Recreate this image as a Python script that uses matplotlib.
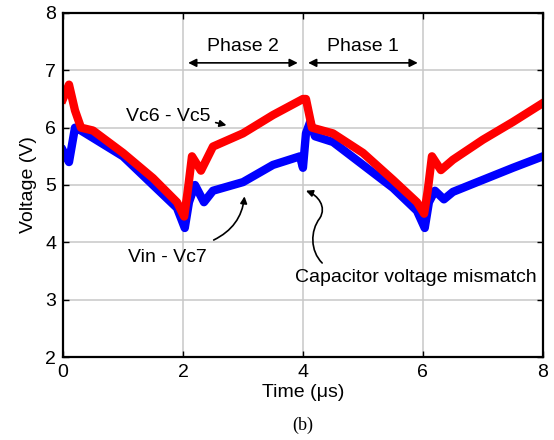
# capacitor voltages over two switching periods (fig. b)

import numpy as np
import matplotlib
matplotlib.use('Agg')
from matplotlib import pyplot as plt
from matplotlib.path import Path
from matplotlib.patches import FancyArrowPatch

plt.rcParams['font.family'] = ['Liberation Sans', 'DejaVu Sans']

# (us, V)
t_red = [0, 0.1, 0.2, 0.3, 0.5, 1.0, 1.5, 1.9, 2.02, 2.08, 2.15, 2.3, 2.5, 3.0,
         3.5, 4.0, 4.05, 4.15, 4.5, 5.0, 5.5, 5.9, 6.02, 6.08, 6.15, 6.3, 6.5,
         7.0, 7.5, 8.0]
vc6_vc5 = [6.5, 6.75, 6.3, 6.0, 5.95, 5.56, 5.12, 4.7, 4.45, 4.9, 5.5, 5.25, 5.67,
           5.9, 6.22, 6.5, 6.5, 6.0, 5.9, 5.56, 5.09, 4.7, 4.5, 4.9, 5.5, 5.26,
           5.44, 5.79, 6.1, 6.43]

t_blue = [0, 0.1, 0.2, 0.3, 1.0, 1.5, 1.9, 2.03, 2.1, 2.2, 2.35, 2.5, 3.0, 3.5,
          3.95, 4.0, 4.05, 4.12, 4.2, 4.5, 5.0, 5.5, 5.9, 6.03, 6.1, 6.2, 6.35,
          6.5, 7.0, 7.5, 8.0]
vin_vc7 = [5.6, 5.4, 6.0, 5.95, 5.5, 5.0, 4.6, 4.25, 4.7, 5.0, 4.7, 4.9, 5.05,
           5.35, 5.5, 5.3, 5.9, 6.1, 5.85, 5.75, 5.35, 4.95, 4.55, 4.25, 4.7,
           4.9, 4.75, 4.88, 5.09, 5.3, 5.5]

fig1 = plt.figure(figsize=(5.54, 4.40), dpi=100)
ax1 = fig1.add_axes([0.1137, 0.1886, 0.8663, 0.7819])
ax1.axis([0, 8, 2, 8])
ax1.set_xticks([0, 2, 4, 6, 8])
ax1.set_yticks([2, 3, 4, 5, 6, 7, 8])
ax1.grid(True, color='#c8c8c8', lw=1.1)
ax1.set_axisbelow(True)
ax1.tick_params(direction='in', top=True, right=True, length=4, width=1,
                labelsize=14, pad=5)
for s in ax1.spines.values():
    s.set_linewidth(1.6)

ax1.plot(t_blue, vin_vc7, color='#0000ff', lw=6)
ax1.plot(t_red, vc6_vc5, color='#ff0000', lw=6)

ax1.set_xlabel('Time (μs)', size=14, labelpad=2)
ax1.set_ylabel('Voltage (V)', size=14, labelpad=6)

# phase markers
ax1.text(3, 7.42, 'Phase 2', size=14, ha='center', va='center')
ax1.text(5, 7.42, 'Phase 1', size=14, ha='center', va='center')
ax1.annotate('', xy=(2.04, 7.13), xytext=(3.96, 7.13),
             arrowprops=dict(arrowstyle='<|-|>', color='k', lw=1.2, mutation_scale=12))
ax1.annotate('', xy=(4.04, 7.13), xytext=(5.96, 7.13),
             arrowprops=dict(arrowstyle='<|-|>', color='k', lw=1.2, mutation_scale=12))

ax1.text(1.75, 6.2, 'Vc6 - Vc5', size=14, ha='center', va='center')
ax1.annotate('', xy=(2.77, 6.03), xytext=(2.5, 6.1),
             arrowprops=dict(arrowstyle='-|>', color='k', lw=1.2, mutation_scale=10))

ax1.text(1.74, 3.73, 'Vin - Vc7', size=14, ha='center', va='center')
ax1.annotate('', xy=(3.03, 4.85), xytext=(2.47, 4.02),
             arrowprops=dict(arrowstyle='-|>', color='k', lw=1.2, mutation_scale=10,
                             connectionstyle='arc3,rad=0.3'))

ax1.text(5.88, 3.38, 'Capacitor voltage mismatch', size=14, ha='center', va='center')
wave = Path([(4.32, 3.64), (4.12, 3.85), (4.12, 4.2), (4.28, 4.42),
             (4.4, 4.62), (4.25, 4.82), (4.05, 4.9)],
            [Path.MOVETO, Path.CURVE4, Path.CURVE4, Path.CURVE4,
             Path.CURVE4, Path.CURVE4, Path.CURVE4])
ax1.add_patch(FancyArrowPatch(path=wave, arrowstyle='-|>', color='k', lw=1.2,
                              mutation_scale=10, transform=ax1.transData))

fig1.text(303 / 554, 1 - 425 / 440, '(b)', size=13, ha='center', va='center',
          family='Liberation Serif')

fig1.savefig('out.png', dpi=100)
